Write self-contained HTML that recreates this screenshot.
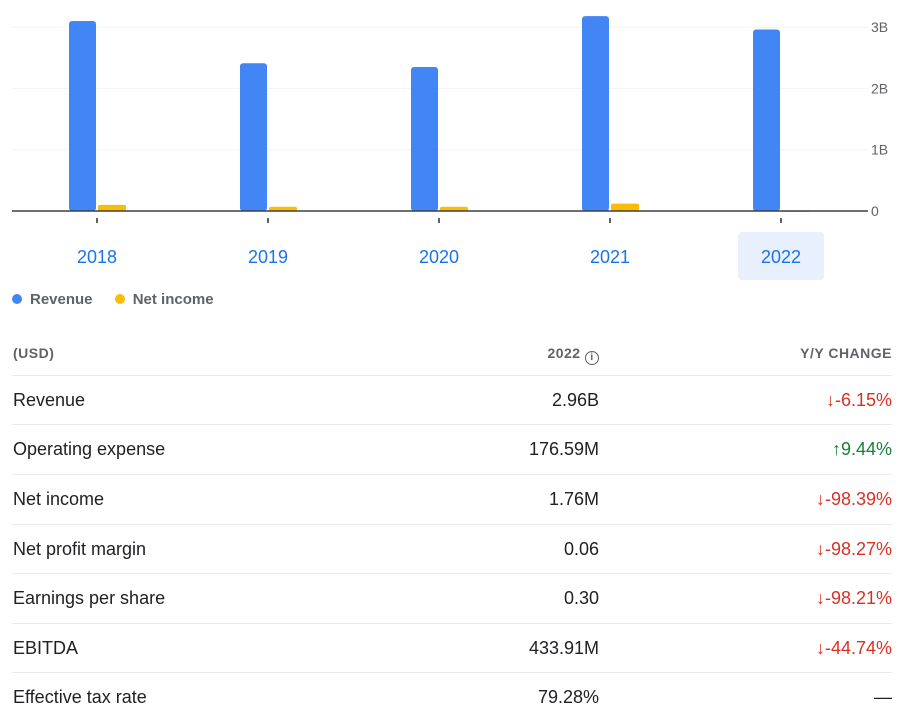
<!DOCTYPE html>
<html><head><meta charset="utf-8"><style>
body{margin:0;width:907px;height:714px;background:#fff;font-family:"Liberation Sans",Arial,sans-serif;overflow:hidden;position:relative}
.row{position:absolute;left:12px;width:880px;height:49px;border-top:1px solid #e8eaed;font-size:18px;color:#202124}
.row span{position:absolute;top:14px}
.l{left:1px}.v{right:293px}.c{right:0}
.red{color:#d93025}.grn{color:#188038}
</style></head><body>
<svg id="chart" width="907" height="320" style="position:absolute;left:0;top:0"></svg>
<div style="position:absolute;left:12px;top:291px;font-size:15px;color:#5f6368;font-weight:bold">
<span><span style="display:inline-block;width:10px;height:10px;border-radius:50%;background:#4285f4;margin-right:8px"></span>Revenue</span>
<span style="margin-left:18px"><span style="display:inline-block;width:10px;height:10px;border-radius:50%;background:#fbbc04;margin-right:8px"></span>Net income</span>
</div>
<div style="position:absolute;left:12px;top:345px;width:880px;font-size:14px;color:#5f6368;letter-spacing:0.5px;font-weight:bold">
<span style="position:absolute;left:1px">(USD)</span>
<span style="position:absolute;right:293px">2022 <span style="display:inline-block;width:12px;height:12px;border:1.5px solid #5f6368;border-radius:50%;font-size:10px;text-align:center;line-height:12px;vertical-align:-2px">i</span></span>
<span style="position:absolute;right:0">Y/Y CHANGE</span>
</div>
<div class="row" style="top:375px"><span class="l">Revenue</span><span class="v">2.96B</span><span class="c red">↓-6.15%</span></div>
<div class="row" style="top:424px"><span class="l">Operating expense</span><span class="v">176.59M</span><span class="c grn">↑9.44%</span></div>
<div class="row" style="top:474px"><span class="l">Net income</span><span class="v">1.76M</span><span class="c red">↓-98.39%</span></div>
<div class="row" style="top:524px"><span class="l">Net profit margin</span><span class="v">0.06</span><span class="c red">↓-98.27%</span></div>
<div class="row" style="top:573px"><span class="l">Earnings per share</span><span class="v">0.30</span><span class="c red">↓-98.21%</span></div>
<div class="row" style="top:623px"><span class="l">EBITDA</span><span class="v">433.91M</span><span class="c red">↓-44.74%</span></div>
<div class="row" style="top:672px"><span class="l">Effective tax rate</span><span class="v">79.28%</span><span class="c">—</span></div>
<script>
const years=["2018","2019","2020","2021","2022"];
const revenue=[3.10,2.41,2.35,3.18,2.96];
const netIncome=[0.10,0.07,0.07,0.12,0.002];
const ticks=[0,1,2,3];
const tickLabels=["0","1B","2B","3B"];
const svg=document.getElementById('chart');
const NS="http://www.w3.org/2000/svg";
const y=v=>211-v*61.3;
const x=i=>97+i*171;
function mk(t,a){const e=document.createElementNS(NS,t);for(const k in a)e.setAttribute(k,a[k]);svg.appendChild(e);return e;}
ticks.forEach((t,i)=>{
 if(t>0){const g=mk('line',{x1:12,x2:868,y1:y(t),y2:y(t),stroke:'#f1f3f4','stroke-width':1});
 
 }
 const l=mk('text',{x:871,y:y(t)+5,'font-size':14,fill:'#5f6368','font-family':'Liberation Sans'});
 l.textContent=tickLabels[i];
 
 
});
const hl=mk('rect',{x:x(4)-43,y:232,width:86,height:48,rx:4,fill:'#e8f0fe'});


years.forEach((yr,i)=>{
 const r=mk('rect',{x:x(i)-28,y:y(revenue[i]),width:27,height:211-y(revenue[i]),rx:3,fill:'#4285f4'});
 
 
 const n=mk('rect',{x:x(i)+1,y:y(netIncome[i]),width:28,height:Math.max(1,211-y(netIncome[i])),rx:2,fill:'#fbbc04'});
 
 
 const tk=mk('line',{x1:x(i),x2:x(i),y1:218,y2:223,stroke:'#5f6368','stroke-width':2});
 
 
 const t=mk('text',{x:x(i),y:263,'text-anchor':'middle','font-size':18,fill:'#1a73e8','font-family':'Liberation Sans'});
 t.textContent=yr;
 
 
});
const base=mk('line',{x1:12,x2:868,y1:211,y2:211,stroke:'#3c4043','stroke-width':1.5});


</script>
</body></html>
